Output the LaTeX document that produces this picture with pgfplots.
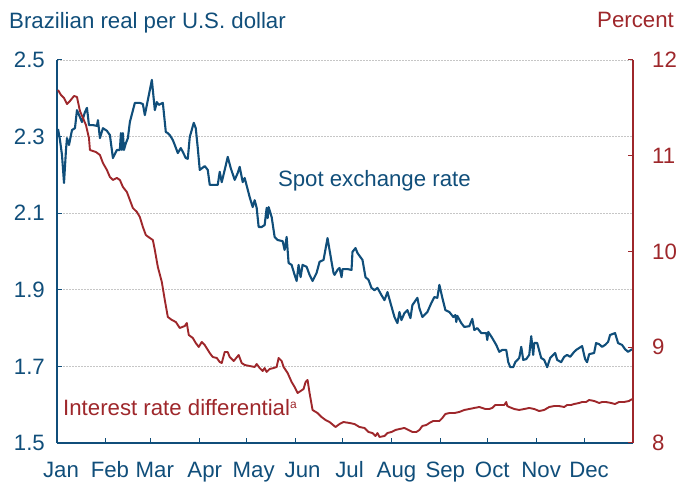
\documentclass[border=0pt]{standalone}
\usepackage{pgfplots}
\pgfplotsset{compat=1.18}
\usepackage{pgfplotstable}
\usepackage{fontspec}
\setmainfont{Liberation Sans}
\definecolor{cblue}{RGB}{16,78,122}
\definecolor{cred}{RGB}{158,39,43}

% x = fraction of the year in twelfths (1 unit = 365/12 days)
\pgfplotstableread{
m v
0.021 2.320
0.062 2.291
0.104 2.252
0.146 2.179
0.187 2.265
0.208 2.296
0.250 2.278
0.312 2.317
0.374 2.322
0.416 2.369
0.478 2.351
0.520 2.338
0.582 2.364
0.624 2.375
0.666 2.330
0.749 2.330
0.832 2.328
0.853 2.343
0.894 2.296
0.957 2.322
1.040 2.315
1.102 2.304
1.165 2.244
1.248 2.265
1.310 2.265
1.331 2.309
1.352 2.265
1.373 2.309
1.394 2.265
1.435 2.283
1.477 2.296
1.518 2.338
1.622 2.388
1.726 2.388
1.789 2.385
1.830 2.356
1.893 2.396
1.976 2.448
2.038 2.369
2.080 2.390
2.121 2.383
2.205 2.388
2.267 2.312
2.309 2.309
2.350 2.304
2.413 2.291
2.454 2.278
2.517 2.257
2.579 2.270
2.621 2.260
2.683 2.244
2.725 2.242
2.766 2.299
2.849 2.336
2.891 2.322
2.933 2.270
2.974 2.213
3.078 2.223
3.141 2.213
3.182 2.174
3.245 2.174
3.349 2.174
3.390 2.208
3.432 2.181
3.494 2.213
3.557 2.247
3.619 2.218
3.702 2.187
3.765 2.205
3.806 2.221
3.869 2.181
3.910 2.192
4.014 2.142
4.077 2.116
4.118 2.134
4.160 2.114
4.201 2.064
4.264 2.064
4.326 2.069
4.368 2.114
4.389 2.087
4.409 2.116
4.472 2.090
4.534 2.038
4.597 2.030
4.701 2.027
4.742 2.004
4.784 2.038
4.825 1.970
4.888 1.965
4.950 1.939
4.992 1.923
5.033 1.965
5.075 1.933
5.116 1.965
5.200 1.960
5.262 1.939
5.324 1.923
5.408 1.944
5.470 1.973
5.553 1.978
5.636 2.035
5.720 1.973
5.761 1.944
5.782 1.939
5.844 1.952
5.886 1.957
5.928 1.933
5.948 1.954
6.052 1.954
6.136 1.952
6.156 1.999
6.219 2.009
6.260 1.996
6.364 1.978
6.427 1.933
6.489 1.926
6.552 1.905
6.614 1.899
6.676 1.905
6.760 1.886
6.822 1.873
6.885 1.894
6.947 1.866
7.030 1.829
7.092 1.813
7.134 1.842
7.176 1.821
7.238 1.839
7.300 1.847
7.363 1.826
7.404 1.860
7.508 1.879
7.550 1.852
7.612 1.829
7.716 1.842
7.800 1.866
7.862 1.881
7.924 1.879
7.966 1.913
8.028 1.879
8.091 1.847
8.174 1.842
8.257 1.829
8.299 1.834
8.319 1.816
8.340 1.832
8.423 1.813
8.486 1.803
8.590 1.805
8.652 1.824
8.694 1.795
8.756 1.800
8.839 1.787
8.943 1.787
8.964 1.769
8.985 1.790
9.068 1.774
9.151 1.756
9.214 1.738
9.276 1.743
9.359 1.743
9.401 1.711
9.443 1.698
9.505 1.698
9.547 1.711
9.630 1.722
9.672 1.751
9.713 1.717
9.775 1.719
9.838 1.730
9.880 1.779
9.921 1.730
9.942 1.761
10.004 1.761
10.087 1.722
10.150 1.717
10.212 1.698
10.275 1.722
10.379 1.735
10.420 1.717
10.503 1.711
10.566 1.725
10.628 1.730
10.691 1.725
10.774 1.738
10.815 1.743
10.878 1.748
10.940 1.753
11.002 1.719
11.044 1.711
11.086 1.732
11.190 1.735
11.231 1.761
11.294 1.758
11.356 1.751
11.418 1.756
11.481 1.764
11.522 1.782
11.626 1.787
11.689 1.761
11.772 1.756
11.834 1.745
11.897 1.738
11.980 1.745
}\spot

\pgfplotstableread{
m r
0.021 11.687
0.083 11.634
0.146 11.603
0.208 11.540
0.270 11.572
0.354 11.624
0.416 11.614
0.478 11.467
0.541 11.394
0.603 11.321
0.666 11.185
0.686 11.060
0.811 11.039
0.894 11.008
0.957 10.924
1.040 10.851
1.102 10.778
1.165 10.747
1.248 10.768
1.310 10.747
1.373 10.674
1.456 10.621
1.518 10.538
1.581 10.454
1.664 10.413
1.726 10.360
1.789 10.256
1.851 10.172
1.934 10.141
1.997 10.120
2.038 10.016
2.101 9.838
2.184 9.681
2.246 9.493
2.309 9.316
2.392 9.285
2.475 9.264
2.558 9.201
2.662 9.222
2.704 9.253
2.745 9.128
2.829 9.097
2.891 9.044
2.953 9.003
3.016 9.055
3.078 9.023
3.182 8.940
3.245 8.898
3.328 8.888
3.390 8.846
3.432 8.835
3.494 8.950
3.557 8.950
3.598 8.898
3.681 8.856
3.785 8.919
3.848 8.835
3.910 8.815
4.014 8.804
4.118 8.794
4.160 8.825
4.222 8.783
4.285 8.752
4.326 8.783
4.368 8.742
4.430 8.773
4.513 8.783
4.576 8.794
4.617 8.888
4.680 8.856
4.721 8.794
4.805 8.731
4.888 8.637
4.950 8.585
5.012 8.522
5.075 8.543
5.137 8.564
5.179 8.637
5.220 8.658
5.262 8.522
5.324 8.345
5.428 8.313
5.512 8.271
5.595 8.240
5.678 8.219
5.803 8.167
5.886 8.198
5.969 8.219
6.094 8.209
6.198 8.198
6.302 8.167
6.406 8.157
6.489 8.115
6.572 8.104
6.635 8.073
6.676 8.104
6.718 8.063
6.822 8.073
6.884 8.104
6.967 8.115
7.051 8.136
7.134 8.146
7.238 8.157
7.321 8.136
7.404 8.115
7.488 8.115
7.550 8.136
7.612 8.178
7.696 8.188
7.758 8.209
7.841 8.230
7.966 8.230
8.028 8.261
8.091 8.303
8.174 8.313
8.278 8.313
8.382 8.324
8.486 8.345
8.590 8.355
8.694 8.366
8.798 8.376
8.860 8.366
8.923 8.355
9.006 8.355
9.068 8.366
9.131 8.397
9.235 8.397
9.318 8.397
9.359 8.428
9.380 8.386
9.422 8.376
9.526 8.355
9.630 8.345
9.734 8.355
9.838 8.366
9.942 8.355
10.046 8.334
10.150 8.345
10.254 8.376
10.358 8.386
10.462 8.386
10.566 8.376
10.628 8.397
10.711 8.397
10.774 8.407
10.878 8.418
10.940 8.428
11.023 8.428
11.086 8.449
11.190 8.439
11.294 8.418
11.356 8.428
11.439 8.428
11.543 8.418
11.626 8.407
11.710 8.428
11.814 8.428
11.918 8.439
11.980 8.459
}\rate

\begin{document}
\begin{tikzpicture}[font=\fontsize{22.3}{26}\selectfont]
\useasboundingbox (0,0) rectangle (678bp,483bp);
\begin{axis}[
  at={(57bp,40bp)}, anchor=south west, scale only axis,
  width=576bp, height=383bp,
  xmin=0, xmax=12, ymin=1.5, ymax=2.5,
  axis x line*=bottom, axis y line*=left,
  axis line style={cblue, line width=1.3bp},
  tick align=inside, major tick length=5bp,
  every tick/.style={cblue, line width=1bp},
  xtick={1.0192,1.9397,2.9589,3.9452,4.9644,5.9507,6.9699,7.9890,8.9753,9.9945,10.9808},
  xticklabels={,,,,,,,,,,},
  extra x ticks={0.083,1.102,2.038,3.078,4.097,5.117,6.094,7.072,8.090,9.068,10.087,11.085},
  extra x tick labels={Jan,Feb,Mar,Apr,May,Jun,Jul,Aug,Sep,Oct,Nov,Dec},
  extra x tick style={major tick length=0pt},
  x tick label style={anchor=base, yshift=-34bp, inner sep=0pt, text=cblue},
  ytick={1.5,1.7,1.9,2.1,2.3,2.5},
  yticklabels={1.5,1.7,1.9,2.1,2.3,2.5},
  y tick label style={anchor=east, xshift=-12bp, inner sep=0pt, text=cblue},
  ymajorgrids,
  grid style={gray!45, dash pattern=on 1.5bp off 1.5bp, line width=0.6bp},
]
\addplot[cblue, line width=2.1bp, line join=round] table[x=m, y=v] {\spot};
\node[anchor=base west, inner sep=0pt, text=cblue] at (axis cs:4.60,2.171) {Spot exchange rate};
\node[anchor=base west, inner sep=0pt, text=cred] at (axis cs:0.125,1.573) {Interest rate differential\raisebox{0.55ex}{\fontsize{12}{14}\selectfont a}};
\end{axis}
\begin{axis}[
  at={(57bp,40bp)}, anchor=south west, scale only axis,
  width=576bp, height=383bp,
  xmin=0, xmax=12, ymin=8, ymax=12,
  axis y line*=right, axis x line=none,
  axis line style={cred, line width=1.3bp},
  tick align=inside, major tick length=5bp,
  every tick/.style={cred, line width=1bp},
  ytick={8,9,10,11,12},
  yticklabels={8,9,10,11,12},
  y tick label style={anchor=west, xshift=19bp, inner sep=0pt, text=cred},
]
\addplot[cred, line width=1.9bp, line join=round] table[x=m, y=r] {\rate};
\end{axis}
\node[anchor=base west, inner sep=0pt, text=cblue] at (9bp,454bp) {Brazilian real per U.S. dollar};
\node[anchor=base east, inner sep=0pt, text=cred] at (674bp,455bp) {Percent};
\end{tikzpicture}
\end{document}
